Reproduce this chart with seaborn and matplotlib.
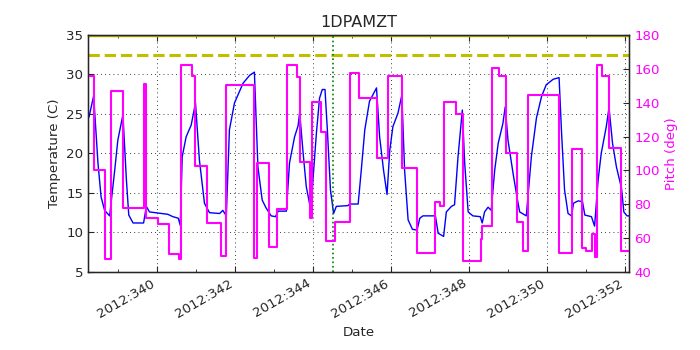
import numpy as np
import pandas as pd
import matplotlib
matplotlib.use("Agg")
import matplotlib.pyplot as plt
from matplotlib.ticker import MultipleLocator, FuncFormatter
import seaborn as sns

sns.set_style("white")
plt.rcParams.update({
    'font.family': ['DejaVu Sans'],
    'font.size': 9.6,
    'xtick.direction': 'in',
    'ytick.direction': 'in',
})

# 1DPAMZT temperature (day of year 2012, deg C)
temp_day = [338.25, 338.37, 338.48, 338.56, 338.65, 338.78, 338.91, 338.99, 339.12, 339.21,
            339.27, 339.38, 339.65, 339.72, 339.80, 340.27, 340.40, 340.54, 340.59, 340.64,
            340.74, 340.87, 340.98, 341.08, 341.21, 341.34, 341.60, 341.68, 341.77, 341.85,
            341.98, 342.20, 342.37, 342.49, 342.58, 342.69, 342.79, 342.92, 343.03, 343.10,
            343.31, 343.39, 343.52, 343.61, 343.65, 343.74, 343.82, 343.91, 343.95, 343.99,
            344.08, 344.16, 344.23, 344.30, 344.36, 344.44, 344.52, 344.59, 344.89, 344.93,
            345.15, 345.23, 345.32, 345.44, 345.62, 345.70, 345.80, 345.89, 345.96, 346.04,
            346.17, 346.27, 346.34, 346.43, 346.54, 346.66, 346.73, 346.81, 347.13, 347.20,
            347.34, 347.41, 347.54, 347.62, 347.71, 347.82, 347.88, 347.97, 348.09, 348.28,
            348.33, 348.39, 348.48, 348.56, 348.65, 348.74, 348.86, 348.92, 348.99, 349.12,
            349.22, 349.29, 349.46, 349.59, 349.72, 349.85, 349.97, 350.15, 350.30, 350.36,
            350.44, 350.53, 350.62, 350.67, 350.79, 350.90, 350.96, 351.13, 351.21, 351.30,
            351.38, 351.51, 351.58, 351.67, 351.77, 351.90, 351.96, 352.04, 352.10]
temp_val = [24.6, 27.3, 18.8, 14.5, 12.8, 12.1, 17.9, 21.7, 24.9, 16.6,
            12.2, 11.2, 11.2, 13.3, 12.6, 12.3, 12.0, 11.8, 10.9, 19.6,
            22.1, 23.6, 26.4, 19.2, 13.7, 12.5, 12.4, 12.8, 12.1, 23.0,
            26.4, 28.9, 29.9, 30.3, 18.3, 14.1, 13.1, 12.1, 12.0, 12.7,
            12.7, 18.8, 22.1, 23.5, 25.2, 20.0, 15.8, 13.5, 12.8, 16.6,
            22.6, 27.0, 28.1, 28.1, 23.0, 15.4, 12.4, 13.3, 13.4, 13.6,
            13.6, 17.9, 23.0, 26.6, 28.3, 22.1, 17.9, 14.8, 20.4, 23.4,
            25.1, 27.4, 17.9, 11.6, 10.4, 10.3, 11.8, 12.1, 12.1, 9.9,
            9.5, 12.6, 13.3, 13.5, 19.6, 25.5, 18.8, 12.6, 12.1, 12.0,
            11.2, 12.6, 13.2, 12.8, 17.9, 21.3, 23.8, 25.9, 21.7, 17.5,
            14.5, 12.6, 12.1, 19.6, 24.5, 27.2, 28.7, 29.4, 29.6, 23.0,
            15.4, 12.4, 12.1, 13.7, 14.0, 13.9, 12.2, 12.0, 10.8, 16.6,
            20.0, 23.4, 25.8, 21.3, 18.3, 15.6, 12.6, 12.1, 12.1]

# pitch (deg), value holds from each day until the next one
pitch_day = [338.23, 338.37, 338.67, 338.82, 339.12, 339.65, 339.70, 340.02, 340.30, 340.56,
             340.60, 340.90, 340.98, 341.27, 341.64, 341.77, 342.49, 342.56, 342.86, 343.06,
             343.33, 343.58, 343.65, 343.92, 343.97, 344.21, 344.32, 344.55, 344.93, 345.17,
             345.63, 345.92, 346.27, 346.66, 347.13, 347.26, 347.35, 347.65, 347.85, 348.29,
             348.33, 348.59, 348.76, 348.93, 349.21, 349.38, 349.51, 350.30, 350.63, 350.90,
             351.00, 351.14, 351.22, 351.26, 351.41, 351.58, 351.90, 352.10]
pitch_val = [156.0, 100.0, 47.5, 147.0, 77.6, 151.0, 71.7, 68.4, 50.4, 47.5,
             162.0, 156.0, 102.6, 69.0, 49.5, 150.5, 48.0, 104.2, 55.0, 77.2,
             162.0, 155.4, 105.0, 71.7, 140.6, 122.9, 58.5, 69.3, 157.4, 143.0,
             107.5, 155.8, 101.2, 51.0, 81.5, 79.0, 140.6, 133.3, 46.7, 59.3,
             67.2, 160.7, 155.8, 110.5, 69.7, 52.4, 144.4, 51.4, 112.7, 54.0,
             52.5, 62.4, 48.7, 162.0, 156.0, 113.4, 52.6, 52.6]

planning_limit = 32.5
caution_limit = 35.0
now_day = 344.5

df_t = pd.DataFrame({'day': temp_day, 'temp': temp_val})
df_p = pd.DataFrame({'day': pitch_day, 'pitch': pitch_val})

fig, ax = plt.subplots(figsize=(7, 3.5), dpi=100)
fig.subplots_adjust(left=0.126, right=0.899, bottom=0.223, top=0.9)

sns.lineplot(data=df_t, x='day', y='temp', ax=ax, color='b', lw=1,
             estimator=None, sort=False)
ax.axhline(planning_limit, color='y', ls='--', lw=2.2)
ax.axhline(caution_limit, color='y', lw=2.5)
ax.axvline(now_day, color='g', ls=':', lw=1.2)

ax.set_xlim(338.23, 352.10)
ax.set_ylim(5, 35)
ax.xaxis.set_major_locator(MultipleLocator(2))
ax.xaxis.set_minor_locator(MultipleLocator(1))
ax.xaxis.set_major_formatter(FuncFormatter(lambda v, p: f"2012:{int(round(v)):03d}"))
ax.yaxis.set_major_locator(MultipleLocator(5))
ax.tick_params(which='major', length=4, top=True, left=True, bottom=True)
ax.tick_params(which='minor', length=2, top=True, bottom=True)
ax.grid(True, which='major', color='k', ls=(0, (1, 4)), lw=0.6)
for lab in ax.get_xticklabels():
    lab.set_rotation(30)
    lab.set_ha('right')
ax.set_xlabel('Date')
ax.set_ylabel('Temperature (C)')
ax.set_title('1DPAMZT', fontsize=11.5)
for s in ax.spines.values():
    s.set_color('k')
    s.set_linewidth(1)

ax2 = ax.twinx()
sns.lineplot(data=df_p, x='day', y='pitch', ax=ax2, color='#ff00ff', lw=1.5,
             drawstyle='steps-post', estimator=None, sort=False)
ax2.set_ylim(40, 180)
ax2.yaxis.set_major_locator(MultipleLocator(20))
ax2.tick_params(axis='y', length=4, right=True, labelcolor='#ff00ff', labelsize=9.6)
ax2.set_ylabel('Pitch (deg)', color='#ff00ff')
ax2.set_xlim(338.23, 352.10)
ax2.grid(False)

fig.savefig('out.png', dpi=100)
